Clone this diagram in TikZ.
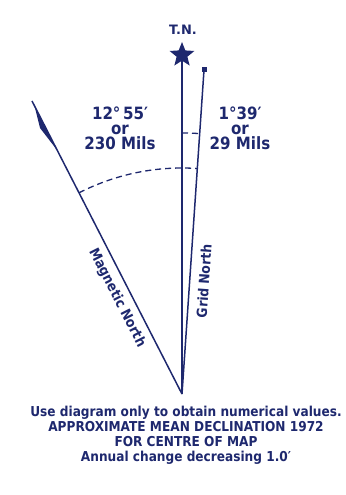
\documentclass[tikz,border=0pt]{standalone}
\usepackage{fontspec}
\setmainfont{DejaVu Sans}
\usetikzlibrary{shapes.geometric}
\definecolor{ink}{RGB}{30,40,110}
\begin{document}
\begin{tikzpicture}[x=1bp, y=1bp, line width=1.5bp, draw=ink, text=ink,
    narrow/.style={transform shape, xscale=0.89},
    decl/.style={align=center, font=\bfseries\fontsize{17}{15}\selectfont, narrow},
    axislabel/.style={font=\bfseries\fontsize{14}{15}\selectfont, inner sep=0pt},
    arcline/.style={dash pattern=on 6bp off 4bp, line width=1.3bp}]
  \useasboundingbox (0,0) rectangle (345,495);
  \coordinate (apex) at (182,101);
  % true north with its star
  \node[star, star points=5, star point ratio=2.3, fill=ink, minimum size=26bp, inner sep=0pt] (star) at (182,440) {};
  \node[font=\bfseries\fontsize{13}{15}\selectfont] (tn) at (183,465) {T.N.};
  \draw (apex) -- (star.center);
  % grid north
  \node[fill=ink, minimum size=5bp, inner sep=0pt] (gridtop) at (204,425) {};
  \draw (apex) -- (gridtop.center);
  % magnetic north with pennant
  \coordinate (magtop) at (32,394);
  \draw (apex) -- (magtop);
  \fill[ink] (34.5,389) -- (40,367) -- (57,345) -- cycle;
  % angle arcs
  \draw[arcline] (apex) ++(117.1:226) arc[start angle=117.1, end angle=86.1, radius=226];
  \draw[arcline] (apex) ++(90:261) arc[start angle=90, end angle=86.1, radius=261];
  \node[decl] (magdecl) at (120,367) {12°\,55′\\or\\230 Mils};
  \node[decl] (griddecl) at (240,367) {1°39′\\or\\29 Mils};
  \node[axislabel, rotate=-63, narrow] (magname) at (117,197) {Magnetic North};
  \node[axislabel, rotate=86, narrow] (gridname) at (204,214) {Grid North};
  \node[align=center, font=\bfseries\fontsize{13.7}{15}\selectfont, narrow] (caption) at (186,59.5)
    {Use diagram only to obtain numerical values.\\
     APPROXIMATE MEAN DECLINATION 1972\\
     FOR CENTRE OF MAP\\
     Annual change decreasing 1.0′};
\end{tikzpicture}
\end{document}
